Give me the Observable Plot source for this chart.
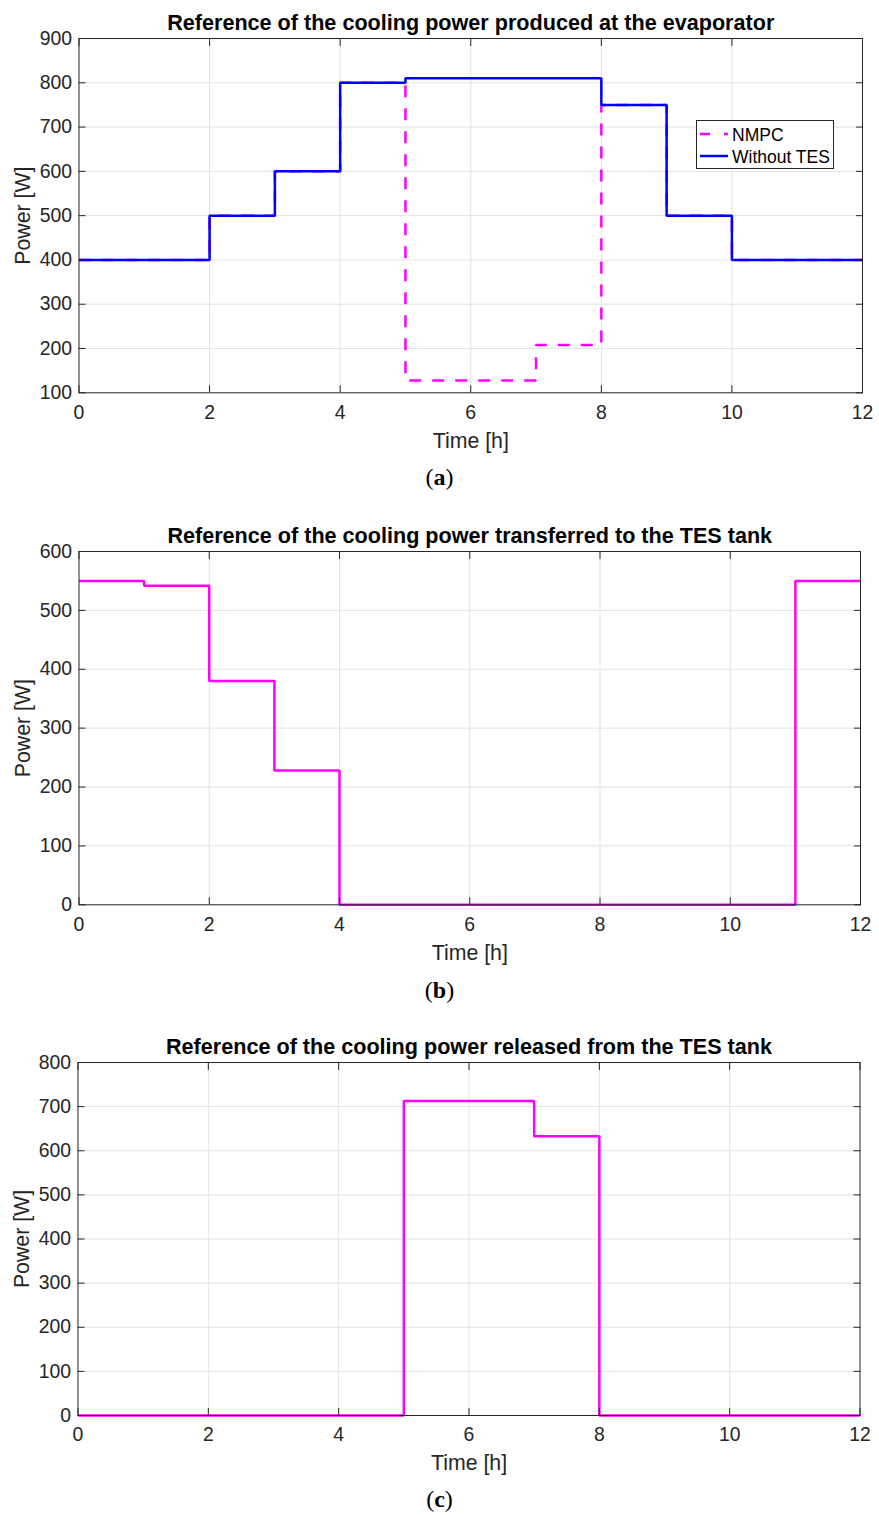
<!DOCTYPE html>
<html>
<head>
<meta charset="utf-8">
<script src="https://cdn.jsdelivr.net/npm/d3@7"></script>
<script src="https://cdn.jsdelivr.net/npm/@observablehq/plot@0.6"></script>
<style>
  body { margin: 0; background: #fff; }
  #root { position: relative; width: 879px; height: 1515px; overflow: hidden; font-family: "Liberation Sans", Arial, sans-serif; }
  .panel { position: absolute; left: 0; width: 879px; }
  .caption { position: absolute; left: 0; width: 879px; text-align: center; font-family: "Liberation Serif", "Times New Roman", serif; font-size: 24px; color: #000; line-height: 28px; }
  .legend { position: absolute; background: #fff; border: 1px solid #262626; box-sizing: border-box; }
</style>
</head>
<body>
<div id="root"></div>
<script>
// ---------- data ----------
const xTicks = [0, 2, 4, 6, 8, 10, 12];

// (a) cooling power produced at the evaporator
const titleA = "Reference of the cooling power produced at the evaporator";
const timeA = [0, 2, 3, 4, 5, 7, 8, 9, 10, 12];
const nmpcA = [400, 500, 600, 800, 128, 208, 750, 500, 400, 400];
const withoutTesA = [400, 500, 600, 800, 810, 810, 750, 500, 400, 400];
const yTicksA = [100, 200, 300, 400, 500, 600, 700, 800, 900];

// (b) cooling power transferred to the TES tank
const titleB = "Reference of the cooling power transferred to the TES tank";
const timeB = [0, 1, 2, 3, 4, 11, 12];
const toTesB = [550, 542, 380, 228, 0, 550, 550];
const yTicksB = [0, 100, 200, 300, 400, 500, 600];

// (c) cooling power released from the TES tank
const titleC = "Reference of the cooling power released from the TES tank";
const timeC = [0, 5, 7, 8, 12];
const fromTesC = [0, 713, 633, 0, 0];
const yTicksC = [0, 100, 200, 300, 400, 500, 600, 700, 800];

const legendNames = ["NMPC", "Without TES"];
const xLabel = "Time [h]";
const yLabel = "Power [W]";

const MAGENTA = "#ff00ff";
const BLUE = "#0000ff";
const AXC = "#262626";
const TICK = 7;

function rows(time, values) { return time.map((t, i) => ({t, v: values[i]})); }

function panel({title, series, yTicks, marginLeft, marginRight, height, marginBottom}) {
  const yDomain = [yTicks[0], yTicks[yTicks.length - 1]];
  const marks = [
    Plot.gridX(xTicks.slice(1, -1), {stroke: "#e3e3e3", strokeOpacity: 1, strokeWidth: 1}),
    Plot.gridY(yTicks.slice(1, -1), {stroke: "#e3e3e3", strokeOpacity: 1, strokeWidth: 1}),
  ];
  for (const s of series) {
    marks.push(Plot.line(s.data, {x: "t", y: "v", curve: "step-after", stroke: s.color,
      strokeWidth: s.width, strokeDasharray: s.dash, strokeLinejoin: "miter", strokeLinecap: "butt"}));
  }
  marks.push(
    Plot.frame({stroke: AXC, strokeWidth: 1}),
    // inward ticks on all sides (outward ticks shifted back inside the frame)
    Plot.axisX(xTicks, {anchor: "bottom", tickSize: TICK, dy: -TICK, tickFormat: () => "", label: null, stroke: AXC}),
    Plot.axisX(xTicks, {anchor: "top", tickSize: TICK, dy: TICK, tickFormat: () => "", label: null, stroke: AXC}),
    Plot.axisY(yTicks, {anchor: "left", tickSize: TICK, dx: TICK, tickFormat: () => "", label: null, stroke: AXC}),
    Plot.axisY(yTicks, {anchor: "right", tickSize: TICK, dx: -TICK, tickFormat: () => "", label: null, stroke: AXC}),
    // tick labels
    Plot.axisX(xTicks, {anchor: "bottom", tickSize: 0, tickPadding: 12, label: null, fill: AXC, fontSize: 19.4}),
    Plot.axisY(yTicks, {anchor: "left", tickSize: 0, tickPadding: 7, label: null, fill: AXC, fontSize: 19.4}),
    // axis labels + title
    Plot.text([xLabel], {frameAnchor: "bottom", dy: 48, lineAnchor: "middle", fill: AXC, fontSize: 21.3}),
    Plot.text([yLabel], {frameAnchor: "left", dx: -56, rotate: -90, lineAnchor: "middle", textAnchor: "middle", fill: AXC, fontSize: 21.3}),
    Plot.text([title], {frameAnchor: "top", dy: -9, lineAnchor: "bottom", fill: "#000", fontWeight: "bold", fontSize: 21.6})
  );
  return Plot.plot({
    width: 879,
    height,
    marginTop: 38,
    marginBottom,
    marginLeft,
    marginRight,
    x: {domain: [0, 12], axis: null},
    y: {domain: yDomain, axis: null},
    style: {fontFamily: "'Liberation Sans', Arial, sans-serif", background: "transparent", overflow: "visible"},
    marks
  });
}

const root = document.getElementById("root");

function addPanel(top, svg, captionLetter, captionTop) {
  const div = document.createElement("div");
  div.className = "panel";
  div.style.top = top + "px";
  div.appendChild(svg);
  const cap = document.createElement("div");
  cap.className = "caption";
  cap.style.top = captionTop + "px";
  cap.innerHTML = "(<b>" + captionLetter + "</b>)";
  div.appendChild(cap);
  root.appendChild(div);
  return div;
}

const svgA = panel({
  title: titleA,
  series: [
    {data: rows(timeA, nmpcA), color: MAGENTA, width: 2.5, dash: "12,11"},
    {data: rows(timeA, withoutTesA), color: BLUE, width: 2.5}
  ],
  yTicks: yTicksA, marginLeft: 78.5, marginRight: 17, height: 500, marginBottom: 107.7
});
addPanel(0, svgA, "a", 463);

// legend for (a)
const leg = document.createElement("div");
leg.className = "legend";
leg.style.left = "696px"; leg.style.top = "120px"; leg.style.width = "138px"; leg.style.height = "49px";
leg.innerHTML = `<svg width="136" height="47" style="display:block">
  <line x1="3" x2="31" y1="13" y2="13" stroke="${MAGENTA}" stroke-width="2.5" stroke-dasharray="10,14"/>
  <text x="35" y="19.5" font-size="17.5" fill="#000" font-family="Liberation Sans, Arial, sans-serif">${legendNames[0]}</text>
  <line x1="3" x2="31" y1="35" y2="35" stroke="${BLUE}" stroke-width="2.5"/>
  <text x="35" y="41.5" font-size="17.5" fill="#000" font-family="Liberation Sans, Arial, sans-serif">${legendNames[1]}</text>
</svg>`;
root.appendChild(leg);

const svgB = panel({
  title: titleB,
  series: [{data: rows(timeB, toTesB), color: MAGENTA, width: 2.5}],
  yTicks: yTicksB, marginLeft: 78.5, marginRight: 19, height: 500, marginBottom: 108.7
});
addPanel(513, svgB, "b", 463);

const svgC = panel({
  title: titleC,
  series: [{data: rows(timeC, fromTesC), color: MAGENTA, width: 2.5}],
  yTicks: yTicksC, marginLeft: 77.5, marginRight: 19.5, height: 491, marginBottom: 100
});
addPanel(1024, svgC, "c", 461);
</script>
</body>
</html>
